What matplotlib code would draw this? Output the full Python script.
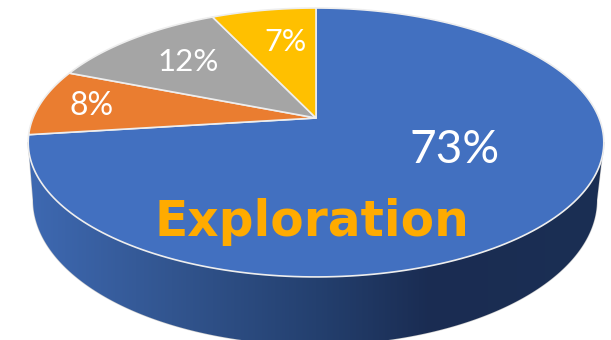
import numpy as np
import matplotlib
matplotlib.use("Agg")
import matplotlib.pyplot as plt
from matplotlib.patches import Polygon

# pie slices, clockwise from 12 o'clock
names = ["Blue", "Orange", "Grey", "Yellow"]
values = [73, 8, 12, 7]
colors = ["#4270c0", "#ea7d30", "#a5a5a5", "#ffc000"]
title = "Exploration"

# tilted disc: apex on screen, scale and perspective strength
cx, cy = 316, 118
sx, sy = 283, 130
k = 0.182


def project(theta):
    # clockwise angle from the top of the disc -> pixel position
    u = np.sin(theta)
    v = np.cos(theta)
    w = 1 + k * v
    return cx + sx * u / w, cy - sy * v / w


fig = plt.figure(figsize=(6.11, 3.4), dpi=100)
ax = fig.add_axes([0, 0, 1, 1])
ax.set_xlim(0, 611)
ax.set_ylim(340, 0)
ax.axis("off")

# side wall: front of the rim down to a lower ellipse, shaded left to right
th = np.linspace(0, 2 * np.pi, 600)
tx, ty = project(th)
front = np.where(ty >= cy + 24)[0]
front = front[np.argsort(tx[front])]
a = np.linspace(np.pi, 0, 300)
low_x = 315 + 282 * np.cos(a)
low_y = 200 + 145 * np.sin(a)
wall = Polygon(np.r_[np.c_[tx[front], ty[front]], np.c_[low_x, low_y][::-1]], closed=True,
               facecolor="none", edgecolor="#d0d0d0", linewidth=0.9)
ax.add_patch(wall)
cmap = matplotlib.colors.LinearSegmentedColormap.from_list(
    "wall", [(0, "#3e69b2"), (0.25, "#32558f"), (0.5, "#24406f"), (0.7, "#1a2c52"), (1, "#1b2f54")])
img = ax.imshow(np.linspace(0, 1, 256).reshape(1, -1), cmap=cmap, aspect="auto",
                extent=[28, 604, 345, 130], zorder=1)
img.set_clip_path(wall)
ax.set_xlim(0, 611)
ax.set_ylim(340, 0)

# disc slices
start = 0
total = sum(values)
for name, val, col in zip(names, values, colors):
    stop = start + val / total * 2 * np.pi
    t = np.linspace(start, stop, 200)
    x, y = project(t)
    ax.fill(np.r_[cx, x], np.r_[cy, y], facecolor=col, edgecolor="#eeeeee",
            linewidth=1.2, joinstyle="round", zorder=2, label=name)
    start = stop

lato = ["Lato", "DejaVu Sans"]
ax.text(455, 150, f"{values[0]}%", color="white", fontsize=33, family=lato,
        ha="center", va="center", zorder=3)
ax.text(92, 106, f"{values[1]}%", color="white", fontsize=23, family=lato,
        ha="center", va="center", zorder=3)
ax.text(188, 62, f"{values[2]}%", color="white", fontsize=22.5, family=lato,
        ha="center", va="center", zorder=3)
ax.text(286, 42, f"{values[3]}%", color="white", fontsize=22, family=lato,
        ha="center", va="center", zorder=3)
ax.text(312, 222, title, color="#ffab00", fontsize=35, fontweight="bold",
        family="DejaVu Sans", ha="center", va="center", zorder=3)

fig.savefig("out.png", dpi=100)
